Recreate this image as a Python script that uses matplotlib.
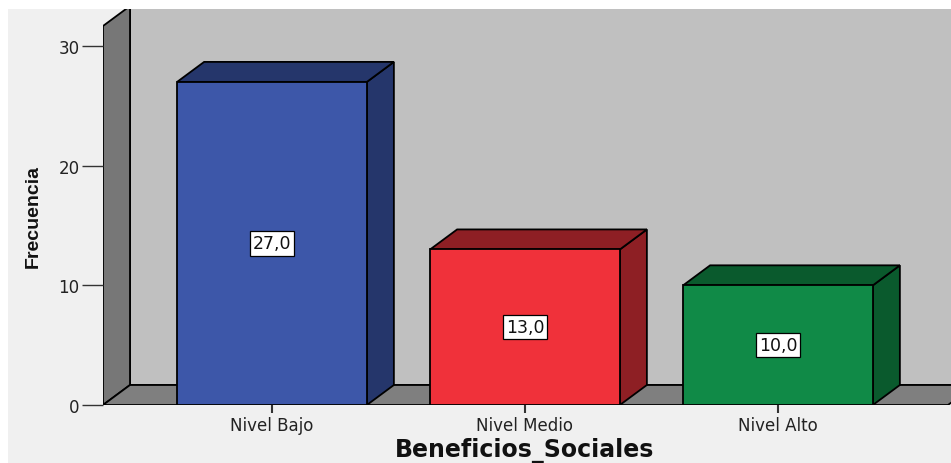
import matplotlib
matplotlib.use("Agg")
import matplotlib.pyplot as plt
from matplotlib.patches import Polygon, Rectangle

# data
categorias = ["Nivel Bajo", "Nivel Medio", "Nivel Alto"]
frecuencias = [27, 13, 10]
etiquetas = ["27,0", "13,0", "10,0"]
y_ticks = [0, 10, 20, 30]

# colours (front, side/top)
frente = ["#3d57a9", "#f0313a", "#108a47"]
lado = ["#25366b", "#8e1f24", "#0a5a2d"]

W, H = 951, 464
fig = plt.figure(figsize=(W / 100, H / 100), dpi=100, facecolor="#f0f0f0")
fig.patches.append(Rectangle((0, (H - 10) / H), 1, 10 / H, transform=fig.transFigure,
                             facecolor="white", edgecolor="none", zorder=0))
fig.patches.append(Rectangle((0, 0), 8 / W, 1, transform=fig.transFigure,
                             facecolor="white", edgecolor="none", zorder=0))

# axes: front-left corner at pixel (103, 406), top at pixel 10
ax = fig.add_axes([103 / W, (H - 406) / H, (W - 103) / W, (406 - 10) / H])
px_y = (406 - 47) / 30.0      # pixels per unit of frequency
px_x = 253.0                  # pixels per category
x0 = -(272 - 103) / px_x
x1 = 2 + (W - 778) / px_x
ax.set_xlim(x0, x1)
ax.set_ylim(0, (406 - 10) / px_y)
ax.set_facecolor("none")
for s in ax.spines.values():
    s.set_visible(False)

dx = 27 / px_x
dy = 20 / px_y
wall_top = (406 - 27) / px_y
floor_end = 2 + (948 - 778) / px_x
ek = dict(edgecolor="black", linewidth=1.3, joinstyle="miter")

# back wall, left wall, floor
ax.add_patch(Polygon([(x0 + dx, dy), (x1 + 1, dy), (x1 + 1, 40), (x0 + dx, 40)],
                     closed=True, facecolor="#c0c0c0", **ek))
ax.add_patch(Polygon([(x0, 0), (x0 + dx, dy), (x0 + dx, wall_top + dy), (x0, wall_top)],
                     closed=True, facecolor="#777777", **ek))
ax.add_patch(Polygon([(x0, 0), (floor_end, 0), (floor_end + dx, dy), (x0 + dx, dy)],
                     closed=True, facecolor="#7f7f7f", **ek))

ancho = 0.75
for i, v in enumerate(frecuencias):
    a, b = i - ancho / 2, i + ancho / 2
    ax.add_patch(Polygon([(b, 0), (b + dx, dy), (b + dx, v + dy), (b, v)],
                         closed=True, facecolor=lado[i], **ek))
    ax.add_patch(Polygon([(a, v), (a + dx, v + dy), (b + dx, v + dy), (b, v)],
                         closed=True, facecolor=lado[i], **ek))
    ax.add_patch(Rectangle((a, 0), ancho, v, facecolor=frente[i], **ek))
    ax.text(i, v / 2, etiquetas[i], ha="center", va="center", fontsize=12.5,
            color="#111111",
            bbox=dict(boxstyle="square,pad=0.18", facecolor="white",
                      edgecolor="black", linewidth=0.9))

ax.set_yticks(y_ticks)
ax.set_yticklabels([str(t) for t in y_ticks], fontsize=12, color="#222222")
ax.tick_params(axis="y", length=15, width=1, color="#333333", pad=2)
ax.set_xticks(range(len(categorias)))
ax.set_xticklabels(categorias, fontsize=12, color="#222222")
ax.tick_params(axis="x", length=6, width=1.5, color="#333333", pad=2)

fig.text(525 / W, (H - 451) / H, "Beneficios_Sociales", ha="center", va="center",
         fontsize=17, fontweight="bold", color="#111111")
fig.text(33 / W, (H - 217) / H, "Frecuencia", ha="center", va="center", rotation=90,
         fontsize=14, fontweight="bold", color="#111111",
         family=["Liberation Sans", "DejaVu Sans"])

fig.savefig("out.png", dpi=100, facecolor=fig.get_facecolor())
